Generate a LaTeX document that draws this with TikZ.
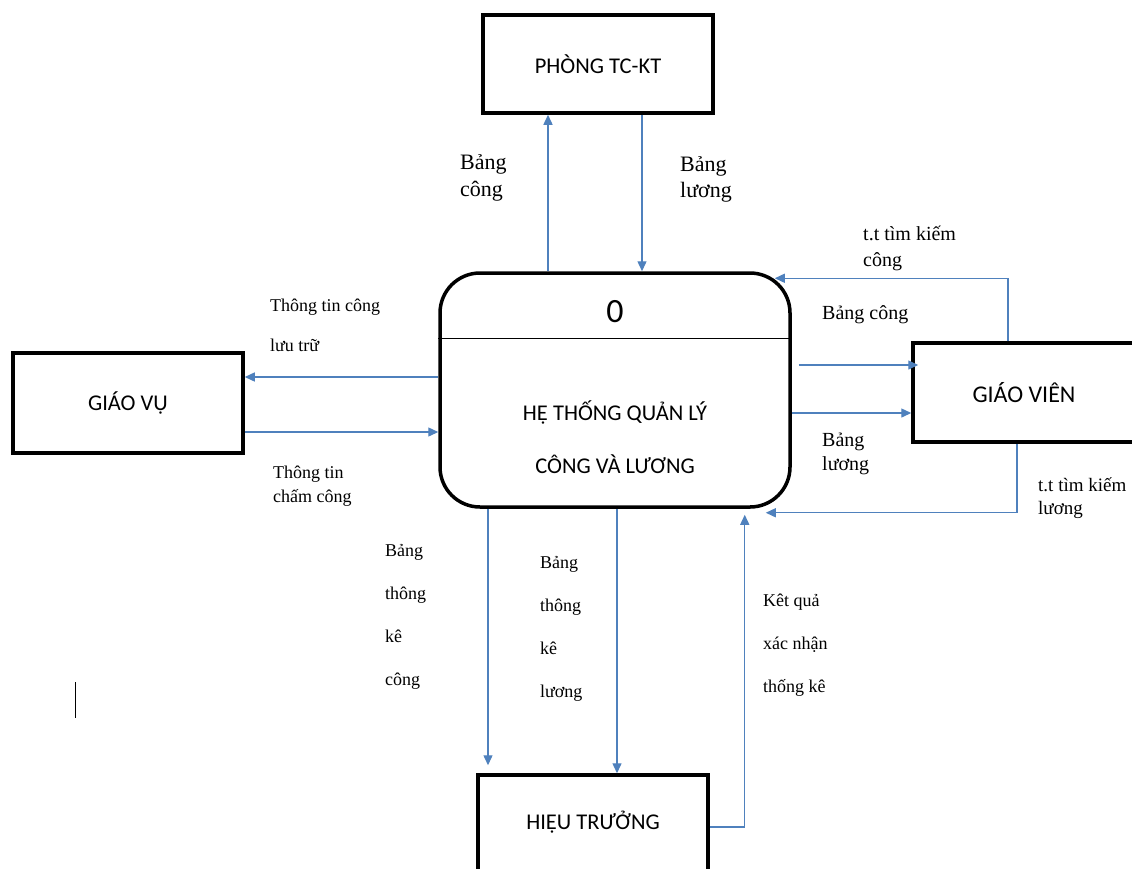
\documentclass[tikz,border=0pt]{standalone}
\usepackage{fontspec}
\setmainfont{Liberation Serif}
\newfontfamily\sansvn{Carlito}
\usetikzlibrary{arrows.meta,positioning}
\definecolor{flowblue}{RGB}{79,129,189}

\begin{document}
\begin{tikzpicture}[
    x=1pt, y=-1pt,
    entity/.style={draw, line width=3.5pt, minimum width=230pt, minimum height=98pt, font=\sansvn\fontsize{22.5}{27}\selectfont},
    process/.style={draw, line width=3.5pt, rounded corners=40pt, minimum width=350pt, minimum height=234pt},
    arrow/.style={-{Triangle[length=10pt,width=9pt]}, flowblue, line width=1.4pt},
    flowlabel/.style={anchor=base west, align=left, inner sep=0pt}
]
\useasboundingbox (0,0) rectangle (1132,868);
\node[entity] (tckt) at (598,64) {PHÒNG TC-KT};
\node[entity, minimum height=100pt] (gvu) at (128,403) {GIÁO VỤ};
\node[entity, minimum width=222pt, minimum height=99pt, font=\sansvn\fontsize{24}{28}\selectfont] (gvien) at (1024,392.5) {GIÁO VIÊN};
\node[entity, minimum height=104pt] (ht) at (593,827) {};
\node[font=\sansvn\fontsize{22.5}{27}\selectfont] (htname) at (593,822) {HIỆU TRƯỞNG};
\node[process] (sys) at (615,390) {};
\draw[line width=1.5pt] ([yshift=-67pt]sys.north west) -- ([yshift=-67pt]sys.north east);
\node[font=\sansvn\fontsize{34}{40}\selectfont] (sysno) at (615,312) {0};
\node[align=center, font=\sansvn\fontsize{22.5}{53}\selectfont] (sysname) at (615,437) {HỆ THỐNG QUẢN LÝ\\CÔNG VÀ LƯƠNG};

\draw[arrow] ([xshift=-67pt]sys.north) -- ([xshift=-67pt]sys.north |- tckt.south);
\draw[arrow] ([xshift=44pt]tckt.south) -- ([xshift=44pt]tckt.south |- sys.north);
\draw[arrow] ([yshift=13pt]sys.west) -- ([yshift=13pt]sys.west -| gvu.east);
\draw[arrow] ([yshift=-29pt]gvu.east) -- ([yshift=-29pt]gvu.east -| sys.west);
\draw[arrow] ([xshift=7pt,yshift=25pt]sys.east) -- ([xshift=7pt,yshift=25pt]sys.east -| gvien.west);
\draw[arrow] ([yshift=-23pt]sys.east) -- ([yshift=-23pt]sys.east -| gvien.west);
\draw[arrow] ([xshift=-16pt]gvien.north) |- ([xshift=-17pt,yshift=-7pt]sys.north east);
\draw[arrow] ([xshift=-7pt]gvien.south) |- ([xshift=-26pt,yshift=-4pt]sys.south east);
\draw[arrow] ([xshift=-127pt]sys.south) -- ([xshift=-105pt,yshift=8pt]ht.north);
\draw[arrow] ([xshift=2pt]sys.south) -- ([xshift=24pt]ht.north);
\draw[arrow] ([yshift=0pt]ht.east) -| ([xshift=-47pt,yshift=-6pt]sys.south east);

\node[flowlabel, font=\fontsize{22}{27}\selectfont] (lbcong) at (460,196) {Bảng\\công};
\node[flowlabel, font=\fontsize{22}{26}\selectfont] (lbluong) at (680,197) {Bảng\\lương};
\node[flowlabel, font=\fontsize{18}{40}\selectfont] (lluutru) at (270,351) {Thông tin công\\lưu trữ};
\node[flowlabel, font=\fontsize{18}{24}\selectfont] (lchamcong) at (273,502) {Thông tin\\chấm công};
\node[flowlabel, font=\fontsize{20}{26}\selectfont] (ltkcong) at (863,266) {t.t tìm kiếm\\công};
\node[flowlabel, font=\fontsize{20}{24}\selectfont] (lbcong2) at (822,319) {Bảng công};
\node[flowlabel, font=\fontsize{20}{24}\selectfont] (lbluong2) at (822,470) {Bảng\\lương};
\node[flowlabel, font=\fontsize{19}{23}\selectfont] (ltkluong) at (1038,514) {t.t tìm kiếm\\lương};
\node[flowlabel, font=\fontsize{18}{43}\selectfont] (lthkcong) at (385,685) {Bảng\\thông\\kê\\công};
\node[flowlabel, font=\fontsize{18}{43}\selectfont] (lthkluong) at (540,697) {Bảng\\thông\\kê\\lương};
\node[flowlabel, font=\fontsize{18}{43}\selectfont] (lketqua) at (763,692) {Kêt quả\\xác nhận\\thống kê};

\draw[line width=1pt] (75,682) -- (75,718);
\end{tikzpicture}
\end{document}
